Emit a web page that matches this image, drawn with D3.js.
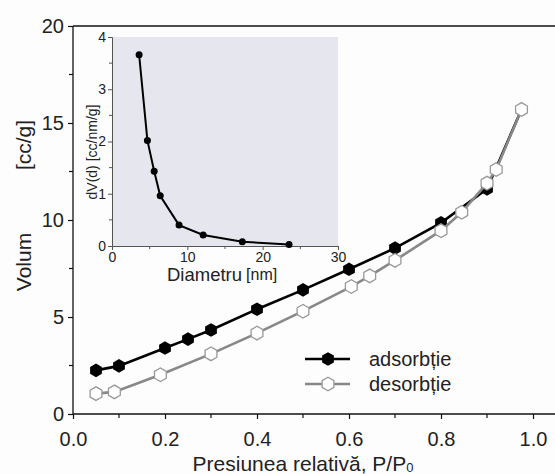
<!DOCTYPE html>
<html>
<head>
<meta charset="utf-8">
<script src="https://cdn.jsdelivr.net/npm/d3@7"></script>
<style>
  body { margin: 0; background: #fdfdfd; }
  svg { font-family: "Liberation Sans", Arial, sans-serif; }
</style>
</head>
<body>
<div id="chart"></div>
<script>
// Main isotherm data
var adsP = [0.05, 0.10, 0.20, 0.25, 0.30, 0.40, 0.50, 0.60, 0.70, 0.80, 0.90, 0.975];
var adsV = [2.25, 2.48, 3.40, 3.86, 4.33, 5.40, 6.40, 7.46, 8.55, 9.85, 11.6, 15.7];
var desP = [0.05, 0.09, 0.19, 0.30, 0.40, 0.50, 0.605, 0.645, 0.70, 0.80, 0.845, 0.90, 0.92, 0.975];
var desV = [1.05, 1.14, 2.02, 3.10, 4.17, 5.30, 6.57, 7.12, 7.92, 9.45, 10.4, 11.9, 12.6, 15.7];
var mainXTicks = [0, 0.2, 0.4, 0.6, 0.8, 1.0];
var mainYTicks = [0, 5, 10, 15, 20];

// Inset pore size distribution
var poreD = [3.6, 4.7, 5.6, 6.4, 8.9, 12.1, 17.3, 23.5];
var poreV = [3.66, 2.02, 1.43, 0.96, 0.40, 0.21, 0.08, 0.03];
var insetXTicks = [0, 10, 20, 30];
var insetYTicks = [0, 1, 2, 3, 4];

var W = 555, H = 474;
var svg = d3.select("#chart").append("svg")
  .attr("width", W).attr("height", H);

var x = d3.scaleLinear().domain([0, 1.0]).range([73, 533]);
var y = d3.scaleLinear().domain([0, 20]).range([414, 26]);

var textCol = "#222";

// hexagon path
function hexPath(r) {
  var pts = d3.range(6).map(function(i) {
    var a = Math.PI / 6 + i * Math.PI / 3;
    return [r * Math.cos(a), r * Math.sin(a)];
  });
  return "M" + pts.join("L") + "Z";
}

// frame (top and right go beyond the window)
svg.append("line").attr("x1", 73).attr("x2", 600).attr("y1", 26).attr("y2", 26)
  .attr("stroke", "#111").attr("stroke-width", 1.3);

// axes
var xAxis = svg.append("g").attr("transform", "translate(0,414)")
  .call(d3.axisBottom(x).tickValues(mainXTicks).tickFormat(d3.format(".1f"))
    .tickSize(5).tickPadding(13));
var yAxis = svg.append("g").attr("transform", "translate(73,0)")
  .call(d3.axisLeft(y).tickValues(mainYTicks).tickSize(5).tickPadding(4));

[xAxis, yAxis].forEach(function(g) {
  g.select(".domain").attr("stroke", "#111").attr("stroke-width", 1.3);
  g.selectAll(".tick line").attr("stroke", "#111").attr("stroke-width", 1.2);
  g.selectAll(".tick text").attr("fill", textCol).style("font-size", "20px");
});
// extend bottom axis to the right edge
xAxis.select(".domain").attr("d", "M73,0H600");
yAxis.select(".domain").attr("d", "M0,414.5V26");

// minor ticks
svg.selectAll(".mx").data([0.1, 0.3, 0.5, 0.7, 0.9]).enter().append("line")
  .attr("x1", function(d) { return x(d); }).attr("x2", function(d) { return x(d); })
  .attr("y1", 414).attr("y2", 418).attr("stroke", "#111").attr("stroke-width", 1.2);
svg.selectAll(".my").data([2.5, 7.5, 12.5, 17.5]).enter().append("line")
  .attr("x1", 69).attr("x2", 73)
  .attr("y1", function(d) { return y(d); }).attr("y2", function(d) { return y(d); })
  .attr("stroke", "#111").attr("stroke-width", 1.2);

// axis titles
svg.append("text").attr("transform", "translate(31,262) rotate(-90)")
  .attr("text-anchor", "middle").attr("fill", textCol).style("font-size", "21px")
  .text("Volum");
svg.append("text").attr("transform", "translate(31,145) rotate(-90)")
  .attr("text-anchor", "middle").attr("fill", textCol).style("font-size", "21px")
  .text("[cc/g]");

var xt = svg.append("text").attr("x", 303).attr("y", 471)
  .attr("text-anchor", "middle").attr("fill", textCol).style("font-size", "21px");
xt.append("tspan").text("Presiunea relativă, P/P");
xt.append("tspan").attr("dy", 1).style("font-size", "13px").text("0");

// inset
var ix = d3.scaleLinear().domain([0, 30]).range([112, 338]);
var iy = d3.scaleLinear().domain([0, 4]).range([246, 37]);

svg.append("rect").attr("x", 112).attr("y", 37)
  .attr("width", 226).attr("height", 209).attr("fill", "#e5e6ee");

var ixAxis = svg.append("g").attr("transform", "translate(0,246)")
  .call(d3.axisBottom(ix).tickValues(insetXTicks).tickFormat(d3.format("d"))
    .tickSize(4).tickPadding(2));
var iyAxis = svg.append("g").attr("transform", "translate(112,0)")
  .call(d3.axisLeft(iy).tickValues(insetYTicks).tickFormat(d3.format("d"))
    .tickSize(4).tickPadding(2));
[ixAxis, iyAxis].forEach(function(g) {
  g.select(".domain").attr("stroke", "#555").attr("stroke-width", 1);
  g.selectAll(".tick line").attr("stroke", "#555");
  g.selectAll(".tick text").attr("fill", textCol).style("font-size", "14px");
});
svg.selectAll(".imx").data([5, 15, 25]).enter().append("line")
  .attr("x1", function(d) { return ix(d); }).attr("x2", function(d) { return ix(d); })
  .attr("y1", 246).attr("y2", 249).attr("stroke", "#555");
svg.selectAll(".imy").data([0.5, 1.5, 2.5, 3.5]).enter().append("line")
  .attr("x1", 109).attr("x2", 112)
  .attr("y1", function(d) { return iy(d); }).attr("y2", function(d) { return iy(d); })
  .attr("stroke", "#555");

svg.append("text").attr("transform", "translate(97,152) rotate(-90)")
  .attr("text-anchor", "middle").attr("fill", textCol).style("font-size", "14px")
  .text("dV(d) [cc/nm/g]");
var ixt = svg.append("text").attr("x", 167).attr("y", 281)
  .attr("fill", textCol).style("font-size", "18.5px");
ixt.append("tspan").text("Diametru");
ixt.append("tspan").style("font-size", "16px").attr("dx", 4).attr("dy", -1).text("[nm]");

var poreData = poreD.map(function(d, i) { return [d, poreV[i]]; });
svg.append("path").datum(poreData)
  .attr("d", d3.line().x(function(d) { return ix(d[0]); }).y(function(d) { return iy(d[1]); }))
  .attr("fill", "none").attr("stroke", "#000").attr("stroke-width", 2);
svg.selectAll(".ipt").data(poreData).enter().append("circle")
  .attr("cx", function(d) { return ix(d[0]); }).attr("cy", function(d) { return iy(d[1]); })
  .attr("r", 3.5).attr("fill", "#000");

// isotherm lines
var ads = adsP.map(function(p, i) { return [p, adsV[i]]; });
var des = desP.map(function(p, i) { return [p, desV[i]]; });
var line = d3.line().x(function(d) { return x(d[0]); }).y(function(d) { return y(d[1]); });

svg.append("path").datum(ads).attr("d", line)
  .attr("fill", "none").attr("stroke", "#000").attr("stroke-width", 2.6);
svg.selectAll(".apt").data(ads).enter().append("path")
  .attr("transform", function(d) { return "translate(" + x(d[0]) + "," + y(d[1]) + ")"; })
  .attr("d", hexPath(6.8)).attr("fill", "#000");

svg.append("path").datum(des).attr("d", line)
  .attr("fill", "none").attr("stroke", "#888").attr("stroke-width", 2.6);
svg.selectAll(".dpt").data(des).enter().append("path")
  .attr("transform", function(d) { return "translate(" + x(d[0]) + "," + y(d[1]) + ")"; })
  .attr("d", hexPath(6.8)).attr("fill", "#fff").attr("stroke", "#999").attr("stroke-width", 1.3);

// legend
var lg = svg.append("g");
lg.append("line").attr("x1", 305).attr("x2", 350).attr("y1", 359).attr("y2", 359)
  .attr("stroke", "#000").attr("stroke-width", 2.6);
lg.append("path").attr("transform", "translate(328,359)").attr("d", hexPath(6.8)).attr("fill", "#000");
lg.append("text").attr("x", 369).attr("y", 366).attr("fill", textCol)
  .style("font-size", "20px").text("adsorbție");
lg.append("line").attr("x1", 305).attr("x2", 350).attr("y1", 384).attr("y2", 384)
  .attr("stroke", "#888").attr("stroke-width", 2.6);
lg.append("path").attr("transform", "translate(328,384)").attr("d", hexPath(6.8))
  .attr("fill", "#fff").attr("stroke", "#999").attr("stroke-width", 1.3);
lg.append("text").attr("x", 369).attr("y", 391).attr("fill", textCol)
  .style("font-size", "20px").text("desorbție");
</script>
</body>
</html>
